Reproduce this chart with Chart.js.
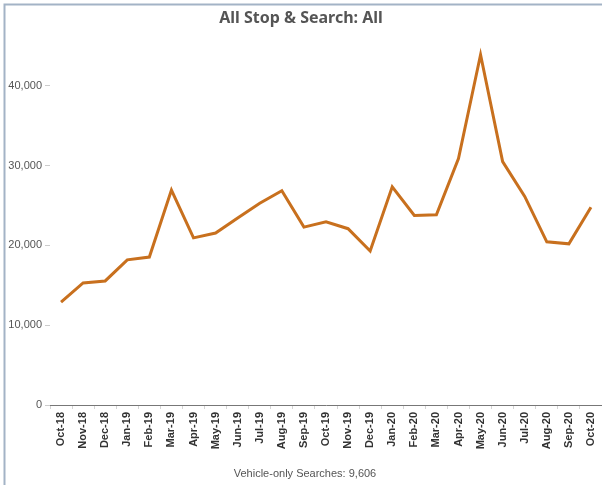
<!DOCTYPE html>
<html>
<head>
<meta charset="utf-8">
<script src="https://cdn.jsdelivr.net/npm/chart.js@4"></script>
<style>
  html, body { margin: 0; background: #fff; overflow: hidden; }
  #wrap { width: 602px; height: 485px; }
  canvas { display: block; }
</style>
</head>
<body>
<div id="wrap"><canvas id="myChart" width="602" height="485"></canvas></div>
<script>
const months = [
	"Oct-18", "Nov-18", "Dec-18", "Jan-19", "Feb-19", "Mar-19", "Apr-19",
	"May-19", "Jun-19", "Jul-19", "Aug-19", "Sep-19", "Oct-19", "Nov-19",
	"Dec-19", "Jan-20", "Feb-20", "Mar-20", "Apr-20", "May-20", "Jun-20",
	"Jul-20", "Aug-20", "Sep-20", "Oct-20",
];
const searches = [
	12900, 15300, 15550, 18200, 18550, 26950, 20950,
	21550, 23450, 25300, 26850, 22300, 22950, 22100,
	19300, 27350, 23750, 23850, 30900, 43900, 30500,
	26150, 20450, 20200, 24800,
];
const yTicks = [0, 10000, 20000, 30000, 40000];
const title = "All Stop & Search: All";
const footer = "Vehicle-only Searches: 9,606";

// frame lines + footer text
const frame = {
	id: "frame",
	beforeDraw(chart) {
		const c = chart.ctx;
		c.save();
		c.fillStyle = "#fff";
		c.fillRect(0, 0, chart.width, chart.height);
		c.strokeStyle = "#a3b3c6";
		c.lineWidth = 2;
		c.beginPath();
		c.moveTo(4.5, chart.height);
		c.lineTo(4.5, 4.5);
		c.lineTo(chart.width, 4.5);
		c.stroke();
		c.restore();
	},
	afterDraw(chart) {
		const c = chart.ctx;
		c.save();
		c.font = "11px 'Liberation Sans', Arial";
		c.fillStyle = "#555";
		c.textAlign = "center";
		c.textBaseline = "middle";
		c.fillText(footer, 305, 474);
		c.restore();
	},
};

const ctx = document.getElementById("myChart");
const myChart = new Chart(ctx, {
	type: "line",
	data: {
		labels: months,
		datasets: [
			{
				label: "All",
				data: searches,
				borderColor: "#c8701e",
				borderWidth: 3,
				pointRadius: 0,
				tension: 0,
			},
		],
	},
	plugins: [frame],
	options: {
		responsive: false,
		animation: false,
		devicePixelRatio: 1,
		layout: {
			autoPadding: false,
			padding: { left: 0, right: 0, top: 0, bottom: 30 },
		},
		plugins: {
			legend: false,
			tooltip: false,
			title: {
				display: true,
				text: title,
				color: "#555",
				font: { family: "'Noto Sans'", size: 16, weight: "bold", lineHeight: 1.2 },
				padding: { top: 9, bottom: 17.8 },
			},
		},
		scales: {
			x: {
				offset: true,
				afterFit: (s) => {
					s.height = 50;
					s.paddingLeft = 0;
					s.paddingRight = 0;
				},
				grid: {
					offset: true,
					drawOnChartArea: false,
					tickLength: 4,
					color: "#d4d4d4",
				},
				border: { display: true, color: "#777", dash: [1, 1], width: 1 },
				ticks: {
					autoSkip: false,
					minRotation: 90,
					maxRotation: 90,
					padding: 3,
					color: "#333",
					font: { family: "'Liberation Sans', Arial", size: 11, weight: "bold" },
				},
			},
			y: {
				min: 0,
				max: 45000,
				afterFit: (s) => { s.width = 50; },
				afterBuildTicks: (s) => { s.ticks = yTicks.map((v) => ({ value: v })); },
				grid: {
					drawOnChartArea: false,
					tickLength: 5,
					color: "#ccc",
				},
				border: { display: false },
				ticks: {
					padding: 3,
					color: "#555",
					font: { family: "'Liberation Sans', Arial", size: 11 },
					callback: (v) => v.toLocaleString("en-US"),
				},
			},
		},
	},
});
</script>
</body>
</html>
